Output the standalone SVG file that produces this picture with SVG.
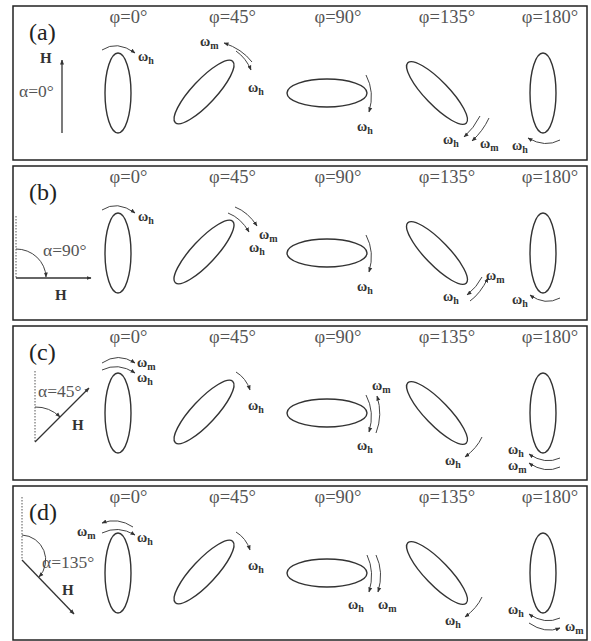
<svg xmlns="http://www.w3.org/2000/svg" width="591" height="641" viewBox="0 0 591 641">
<defs>
<style>
.frame{fill:#fff;stroke:#222;stroke-width:1.5}
.ell{fill:none;stroke:#333;stroke-width:1.4}
.arr{fill:none;stroke:#444;stroke-width:1}
.dot{fill:none;stroke:#555;stroke-width:1;stroke-dasharray:1.5,1.5}
.ax{fill:none;stroke:#333;stroke-width:1.3}
.phi{font-family:"Liberation Serif",serif;font-size:18.5px;fill:#555;text-anchor:middle}
.lab{font-family:"Liberation Serif",serif;font-size:24px;fill:#222}
.alp{font-family:"Liberation Serif",serif;font-size:17.5px;fill:#555}
.hh{font-family:"Liberation Serif",serif;font-size:15px;font-weight:bold;fill:#333}
.w{font-family:"Liberation Serif",serif;font-size:14px;font-weight:bold;fill:#333}
.s{font-size:10px}
</style>
<marker id="ah" viewBox="0 0 10 10" refX="9" refY="5" markerWidth="5" markerHeight="5" orient="auto-start-reverse" markerUnits="userSpaceOnUse"><path d="M0,1 L10,5 L0,9 z" fill="#333"/></marker>
<g id="ellipses">
<ellipse class="ell" cx="118" cy="93" rx="13" ry="40"/>
<ellipse class="ell" cx="204" cy="92" rx="42" ry="12" transform="rotate(-47 204 92)"/>
<ellipse class="ell" cx="327" cy="93" rx="40" ry="14"/>
<ellipse class="ell" cx="437" cy="93" rx="42" ry="12" transform="rotate(46 437 93)"/>
<ellipse class="ell" cx="543" cy="93" rx="13" ry="40"/>
</g>
<g id="phis">
<text class="phi" x="128.5" y="23">φ=0°</text>
<text class="phi" x="232.5" y="23">φ=45°</text>
<text class="phi" x="338" y="23">φ=90°</text>
<text class="phi" x="447" y="23">φ=135°</text>
<text class="phi" x="550" y="23">φ=180°</text>
</g>
</defs>

<g id="panel-a">
<rect class="frame" x="13" y="6" width="574" height="154"/>
<use href="#ellipses"/>
<use href="#phis"/>
<text class="lab" x="29" y="40">(a)</text>
<text class="hh" x="40" y="63">H</text>
<text class="alp" x="19" y="97">α=0°</text>
<text class="w" x="138" y="61">ω<tspan class="s" dy="3">h</tspan></text>
<text class="w" x="200" y="46">ω<tspan class="s" dy="3">m</tspan></text>
<text class="w" x="248" y="92">ω<tspan class="s" dy="3">h</tspan></text>
<text class="w" x="357" y="131">ω<tspan class="s" dy="3">h</tspan></text>
<text class="w" x="443" y="144">ω<tspan class="s" dy="3">h</tspan></text>
<text class="w" x="480" y="148">ω<tspan class="s" dy="3">m</tspan></text>
<text class="w" x="512" y="150">ω<tspan class="s" dy="3">h</tspan></text>
</g>

<g id="panel-b" transform="translate(0,160)">
<rect class="frame" x="13" y="6" width="574" height="154"/>
<use href="#ellipses"/>
<use href="#phis"/>
<text class="lab" x="29" y="40">(b)</text>
<text class="hh" x="55" y="140">H</text>
<text class="alp" x="43" y="96">α=90°</text>
<text class="w" x="138" y="61">ω<tspan class="s" dy="3">h</tspan></text>
<text class="w" x="259" y="79">ω<tspan class="s" dy="3">m</tspan></text>
<text class="w" x="249" y="92">ω<tspan class="s" dy="3">h</tspan></text>
<text class="w" x="357" y="131">ω<tspan class="s" dy="3">h</tspan></text>
<text class="w" x="486" y="120">ω<tspan class="s" dy="3">m</tspan></text>
<text class="w" x="443" y="141">ω<tspan class="s" dy="3">h</tspan></text>
<text class="w" x="512" y="144">ω<tspan class="s" dy="3">h</tspan></text>
</g>

<g id="panel-c" transform="translate(0,320)">
<rect class="frame" x="13" y="6" width="574" height="154"/>
<use href="#ellipses"/>
<use href="#phis"/>
<text class="lab" x="29" y="40">(c)</text>
<text class="hh" x="72" y="110">H</text>
<text class="alp" x="38" y="77">α=45°</text>
<text class="w" x="137" y="47">ω<tspan class="s" dy="3">m</tspan></text>
<text class="w" x="137" y="62">ω<tspan class="s" dy="3">h</tspan></text>
<text class="w" x="248" y="90">ω<tspan class="s" dy="3">h</tspan></text>
<text class="w" x="372" y="70">ω<tspan class="s" dy="3">m</tspan></text>
<text class="w" x="357" y="130">ω<tspan class="s" dy="3">h</tspan></text>
<text class="w" x="445" y="145">ω<tspan class="s" dy="3">h</tspan></text>
<text class="w" x="508" y="134">ω<tspan class="s" dy="3">h</tspan></text>
<text class="w" x="508" y="150">ω<tspan class="s" dy="3">m</tspan></text>
</g>

<g id="panel-d" transform="translate(0,480)">
<rect class="frame" x="13" y="6" width="574" height="154"/>
<use href="#ellipses"/>
<use href="#phis"/>
<text class="lab" x="29" y="40">(d)</text>
<text class="hh" x="62" y="115">H</text>
<text class="alp" x="42" y="88">α=135°</text>
<text class="w" x="77" y="56">ω<tspan class="s" dy="3">m</tspan></text>
<text class="w" x="137" y="62">ω<tspan class="s" dy="3">h</tspan></text>
<text class="w" x="248" y="90">ω<tspan class="s" dy="3">h</tspan></text>
<text class="w" x="348" y="129">ω<tspan class="s" dy="3">h</tspan></text>
<text class="w" x="378" y="129">ω<tspan class="s" dy="3">m</tspan></text>
<text class="w" x="445" y="145">ω<tspan class="s" dy="3">h</tspan></text>
<text class="w" x="508" y="134">ω<tspan class="s" dy="3">h</tspan></text>
<text class="w" x="565" y="151">ω<tspan class="s" dy="3">m</tspan></text>
</g>

<g id="connectors">
<g id="conn-a">
<path class="ax" d="M62,133 L62,60" marker-end="url(#ah)"/>
<path class="arr" d="M102,50 Q117,40 135,53" marker-end="url(#ah)"/>
<path class="arr" d="M252,62 Q242,49 224,43" marker-end="url(#ah)"/>
<path class="arr" d="M236,51 Q246,58 251,70" marker-end="url(#ah)"/>
<path class="arr" d="M366,75 Q375,92 369,112" marker-end="url(#ah)"/>
<path class="arr" d="M480,116 Q474,128 464,137" marker-end="url(#ah)"/>
<path class="arr" d="M489,118 Q483,131 472,141" marker-end="url(#ah)"/>
<path class="arr" d="M560,140 Q545,148 528,138" marker-end="url(#ah)"/>
</g>
<g id="conn-b" transform="translate(0,160)">
<path class="dot" d="M16,56 L16,118"/>
<path class="ax" d="M16,118 L91,118" marker-end="url(#ah)"/>
<path class="arr" d="M16,89 A30,29 0 0 1 46,117" marker-end="url(#ah)"/>
<path class="arr" d="M102,50 Q117,40 135,53" marker-end="url(#ah)"/>
<path class="arr" d="M235,47 Q248,52 257,66" marker-end="url(#ah)"/>
<path class="arr" d="M228,53 Q241,58 249,72" marker-end="url(#ah)"/>
<path class="arr" d="M366,75 Q375,92 369,112" marker-end="url(#ah)"/>
<path class="arr" d="M482,117 Q477,127 467,135" marker-end="url(#ah)"/>
<path class="arr" d="M470,141 Q480,134 488,118" marker-end="url(#ah)"/>
<path class="arr" d="M560,138 Q545,146 530,135" marker-end="url(#ah)"/>
</g>
<g id="conn-c" transform="translate(0,320)">
<path class="dot" d="M35,51 L35,122"/>
<path class="ax" d="M35,122 L89,68" marker-end="url(#ah)"/>
<path class="arr" d="M35,87 A35,35 0 0 1 60,97" marker-end="url(#ah)"/>
<path class="arr" d="M102,43 Q118,32 135,43" marker-end="url(#ah)"/>
<path class="arr" d="M102,50 Q118,42 135,53" marker-end="url(#ah)"/>
<path class="arr" d="M236,52 Q246,58 250,70" marker-end="url(#ah)"/>
<path class="arr" d="M366,75 Q375,92 369,112" marker-end="url(#ah)"/>
<path class="arr" d="M376,113 Q383,95 377,76" marker-end="url(#ah)"/>
<path class="arr" d="M482,117 Q477,128 465,137" marker-end="url(#ah)"/>
<path class="arr" d="M560,138 Q545,145 529,134" marker-end="url(#ah)"/>
<path class="arr" d="M560,147 Q545,154 529,143" marker-end="url(#ah)"/>
</g>
<g id="conn-d" transform="translate(0,480)">
<path class="dot" d="M22,17 L22,80"/>
<path class="ax" d="M22,80 L74,134" marker-end="url(#ah)"/>
<path class="arr" d="M22,55 A25,25 0 0 1 39,97" marker-end="url(#ah)"/>
<path class="arr" d="M133,47 Q118,37 102,43" marker-end="url(#ah)"/>
<path class="arr" d="M102,53 Q118,45 135,55" marker-end="url(#ah)"/>
<path class="arr" d="M236,52 Q246,58 250,70" marker-end="url(#ah)"/>
<path class="arr" d="M367,75 Q375,92 369,112" marker-end="url(#ah)"/>
<path class="arr" d="M376,75 Q384,92 378,112" marker-end="url(#ah)"/>
<path class="arr" d="M482,117 Q477,128 465,137" marker-end="url(#ah)"/>
<path class="arr" d="M560,138 Q545,145 529,134" marker-end="url(#ah)"/>
<path class="arr" d="M529,143 Q545,154 560,148" marker-end="url(#ah)"/>
</g>
</g>
</svg>
